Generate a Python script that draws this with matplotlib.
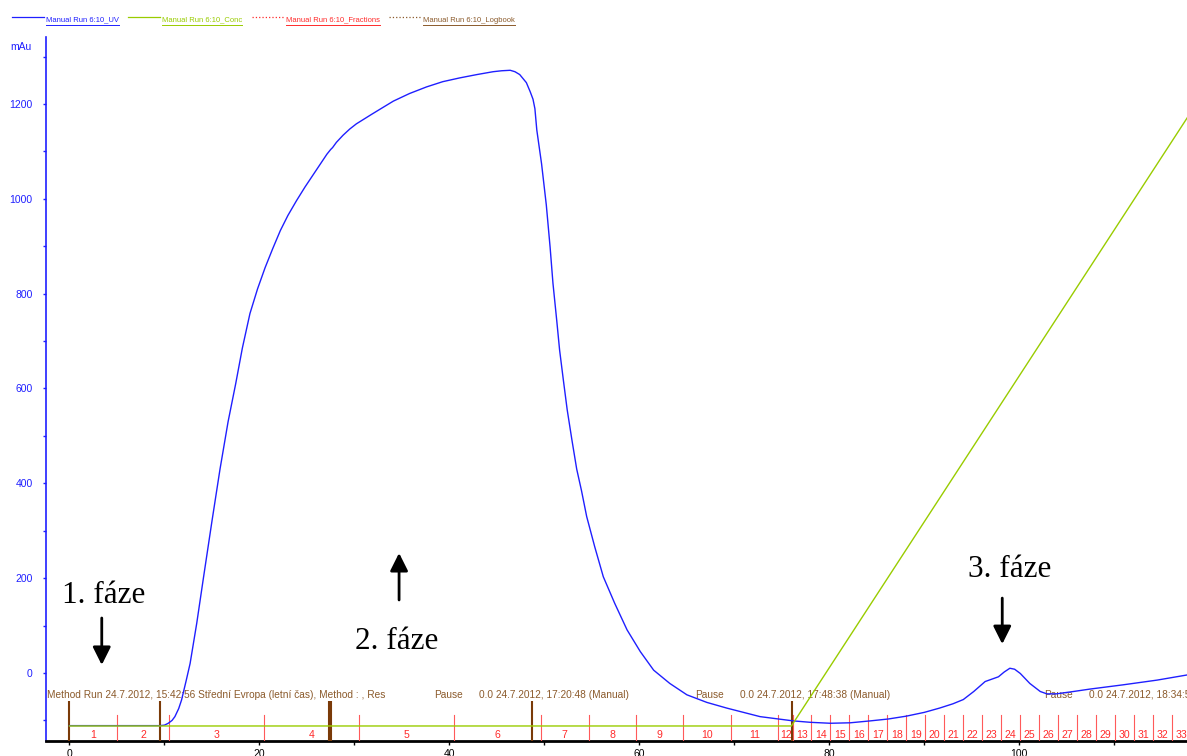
import matplotlib
matplotlib.use("Agg")
import matplotlib.pyplot as plt
from matplotlib.ticker import MultipleLocator, FixedLocator
from matplotlib.lines import Line2D

plt.rcParams['font.family'] = ['Liberation Sans', 'DejaVu Sans']

# UV 280 nm trace, time in min, absorbance in mAu
uv_t = [0, 5, 9.5, 10.0, 10.4, 10.8, 11.1, 11.5, 11.8, 12.3, 12.7, 13.4, 14.1, 15.0,
        15.85, 16.7, 17.5, 18.2, 19.0, 19.8, 20.6, 21.4, 22.2, 23.0, 23.9, 24.8, 25.7,
        26.4, 27.1, 27.5, 27.7, 28.1, 28.8, 29.5, 30.2, 31.0, 31.8, 32.7, 34.1, 35.8,
        37.6, 39.3, 41.1, 42.9, 44.6, 45.5, 46.4, 46.9, 47.4, 48.1, 48.5, 48.8, 49.0,
        49.2, 49.7, 50.2, 50.6, 50.9, 51.3, 51.6, 52.0, 52.4, 52.9, 53.4, 53.9, 54.45,
        55.3, 56.2, 57.4, 58.7, 60.1, 61.5, 63.2, 65.0, 67.1, 69.2, 72.7, 76.2, 78.0,
        80.1, 82.2, 84.3, 86.2, 88.1, 90.0, 91.6, 93.0, 94.1, 95.2, 96.4, 97.1, 97.8,
        98.4, 99.0, 99.5, 100.1, 101.1, 102.2, 102.9, 103.9, 105.7, 107.4, 110.9, 114.5,
        117.7]
uv_mau = [-111, -111, -111, -110, -106, -100, -92, -75, -57, -15, 20, 105, 200, 320,
          430, 530, 610, 685, 758, 810, 855, 895, 933, 965, 996, 1025, 1052,
          1073, 1094, 1104, 1108, 1119, 1134, 1147, 1158, 1168, 1178, 1189, 1206, 1222,
          1236, 1247, 1255, 1262, 1268, 1270, 1271, 1268, 1262, 1245, 1226, 1210, 1190,
          1145, 1074, 987, 898, 822, 743, 681, 617, 555, 491, 430, 385, 330,
          266, 203, 147, 91, 45, 6, -22, -46, -62, -74, -92, -101, -104,
          -106, -105, -101, -97, -91, -83, -74, -65, -56, -39, -18, -13, -8,
          2, 10, 8, -1, -22, -39, -44, -44, -39, -34, -25, -15,
          -4]

# gradient (% B)
conc_t = [0, 76.0, 120.0]
conc_pct = [0, 0, 93.2]

# fraction boundaries (min) and numbers
frac_edges = [0, 5.0, 10.5, 20.5, 30.5, 40.5, 49.6, 54.7, 59.6, 64.6, 69.6, 74.6, 76.2,
              78.1, 80.1, 82.1, 84.1, 86.1, 88.1, 90.1, 92.1, 94.1, 96.1, 98.1, 100.1,
              102.1, 104.1, 106.1, 108.1, 110.1, 112.1, 114.1, 116.1, 118.1]
frac_names = [str(i) for i in range(1, 34)]

# logbook
log_marks = [0, 9.5, 27.3, 27.5, 48.7, 76.1]
log_x = [-2.4, 38.4, 43.1, 65.9, 70.6, 102.6, 107.3]
log_text = ["Method Run 24.7.2012, 15:42:56 Střední Evropa (letní čas), Method : , Res",
            "Pause", "0.0 24.7.2012, 17:20:48 (Manual)",
            "Pause", "0.0 24.7.2012, 17:48:38 (Manual)",
            "Pause", "0.0 24.7.2012, 18:34:51 (Manual)"]

UV_C = '#1f1fff'
CONC_C = '#99cc00'
FRAC_C = '#ff5a5a'
FRAC_TXT = '#ff2a2a'
LOG_C = '#7a3a08'
LOG_TXT = '#8b5a2b'

W, H = 1187, 756
fig = plt.figure(figsize=(W / 100, H / 100), dpi=100)
ax = fig.add_axes([46 / W, 15 / H, (W - 46) / W, 704 / H])
ax.set_xlim(-2.47, 117.65)
ax.set_ylim(-143.4, 1341.2)

for s in ['top', 'right']:
    ax.spines[s].set_visible(False)
ax.spines['left'].set_color(UV_C)
ax.spines['left'].set_linewidth(1.2)
ax.spines['bottom'].set_color('black')
ax.spines['bottom'].set_linewidth(2)

ax.yaxis.set_major_locator(FixedLocator([0, 200, 400, 600, 800, 1000, 1200]))
ax.yaxis.set_minor_locator(MultipleLocator(100))
ax.xaxis.set_major_locator(MultipleLocator(20))
ax.xaxis.set_minor_locator(MultipleLocator(10))
ax.tick_params(axis='y', which='both', colors=UV_C, labelcolor=UV_C, labelsize=7.5,
               direction='out', length=2.5, width=1, pad=7)
ax.tick_params(axis='x', which='both', colors='black', labelsize=7.5,
               direction='out', length=3, width=1, pad=3)

# gradient on its own hidden scale
ax2 = ax.twinx()
ax2.set_ylim(-2.18, 100)
ax2.set_axis_off()
ax2.plot(conc_t, conc_pct, color=CONC_C, lw=1.0, zorder=1)

ax.plot(uv_t, uv_mau, color=UV_C, lw=1.0, zorder=5)

# fractions
ybot = -143.4
for e in frac_edges[1:]:
    ax.plot([e, e], [ybot, -88.6], color=FRAC_C, lw=0.8, zorder=3)
for i, name in enumerate(frac_names):
    xc = (frac_edges[i] + frac_edges[i + 1]) / 2
    ax.text(xc, -131, name, color=FRAC_TXT, fontsize=7.6, ha='center', va='center',
            clip_on=True, zorder=4)

# logbook events
for m in log_marks:
    ax.plot([m, m], [ybot, -59], color=LOG_C, lw=1.5, zorder=4, solid_capstyle='butt')
for xx, tx in zip(log_x, log_text):
    ax.text(xx, -46, tx, color=LOG_TXT, fontsize=7.3, ha='left', va='center',
            clip_on=True, zorder=4)

# phase annotations
serif = ['Liberation Serif', 'DejaVu Serif']
ax.text(-0.8, 147, "1. fáze", fontsize=22.5, family=serif, ha='left', va='baseline')
ax.text(30.1, 51, "2. fáze", fontsize=22.5, family=serif, ha='left', va='baseline')
ax.text(94.6, 202, "3. fáze", fontsize=22.5, family=serif, ha='left', va='baseline')
arrow = dict(arrowstyle='-|>', color='black', lw=2, mutation_scale=27,
             shrinkA=0, shrinkB=0)
ax.annotate('', xy=(3.4, 17), xytext=(3.4, 116), arrowprops=arrow)
ax.annotate('', xy=(34.7, 253), xytext=(34.7, 154), arrowprops=arrow)
ax.annotate('', xy=(98.2, 61), xytext=(98.2, 158), arrowprops=arrow)

fig.text(10 / W, 1 - 47 / H, "mAu", color=UV_C, fontsize=7.5, ha='left', va='center')

# legend row with underlined names
leg = [("Manual Run 6:10_UV", UV_C, '-', 12), ("Manual Run 6:10_Conc", CONC_C, '-', 128),
       ("Manual Run 6:10_Fractions", FRAC_TXT, ':', 252),
       ("Manual Run 6:10_Logbook", LOG_TXT, ':', 389)]
renderer = fig.canvas.get_renderer()
for name, col, ls, x0 in leg:
    y = 1 - 17 / H
    fig.add_artist(Line2D([x0 / W, (x0 + 32) / W], [y, y], color=col, lw=0.9, ls=ls))
    t = fig.text((x0 + 34) / W, 1 - 20 / H, name, color=col, fontsize=5.5,
                 ha='left', va='center')
    bb = t.get_window_extent(renderer)
    yu = (bb.y0 - 1) / H
    fig.add_artist(Line2D([bb.x0 / W, bb.x1 / W], [yu, yu], color=col, lw=0.7))

fig.savefig("out.png", dpi=100)
